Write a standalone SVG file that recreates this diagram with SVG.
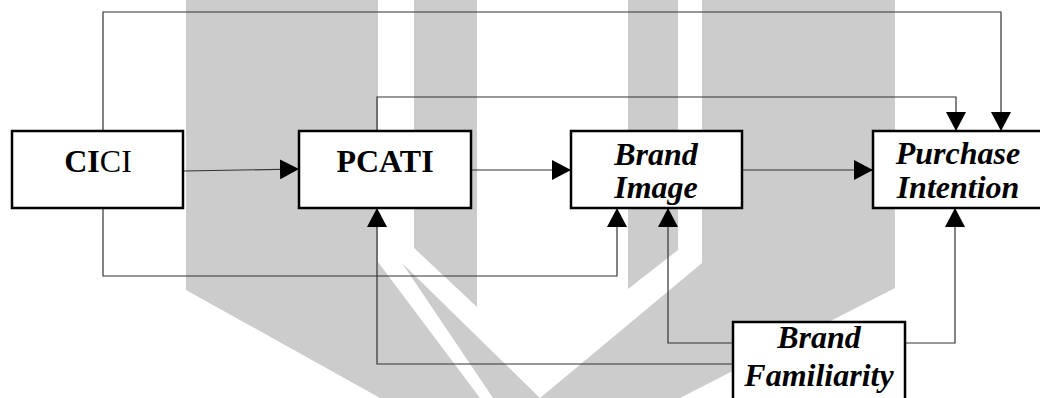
<svg xmlns="http://www.w3.org/2000/svg" width="1040" height="398" viewBox="0 0 1040 398">
  <style>
    .mark { fill: #cccccc; stroke: none; }
    .box { fill: #ffffff; stroke: #000000; stroke-width: 2.5; }
    .lbl { font-family: "Liberation Serif", "Times New Roman", Times, serif; font-size: 32px; font-weight: bold; fill: #000000; text-anchor: middle; }
    .it { font-style: italic; }
    .reg { font-weight: normal; }
    .wire { fill: none; stroke: #333333; stroke-width: 1.2; }
    .arrow { marker-end: url(#head); }
  </style>
  <defs>
    <marker id="head" markerUnits="userSpaceOnUse" markerWidth="20" markerHeight="20" refX="19" refY="10" orient="auto">
      <path d="M0,0 L19,10 L0,20 z" fill="#000000"/>
    </marker>
  </defs>

  <rect width="1040" height="398" fill="#ffffff"/>

  <!-- background emblem -->
  <g id="emblem">
    <polygon class="mark" points="186,0 378,0 378,262 480,398 380,398 186,290"/>
    <polygon class="mark" points="402,263 540,398 493,398"/>
    <polygon class="mark" points="414,0 477,0 477,307 414,248"/>
    <polygon class="mark" points="628,0 678,0 678,250 628,289"/>
    <polygon class="mark" points="702,0 895,0 895,288 680,398 540,398 702,263"/>
  </g>

  <!-- connectors -->
  <g id="connectors">
    <polyline class="wire arrow" points="103,131 103,12 1001,12 1001,131"/>
    <polyline class="wire arrow" points="377,131 377,97 956,97 956,131"/>
    <line class="wire arrow" x1="183" y1="171" x2="299" y2="169"/>
    <line class="wire arrow" x1="471" y1="170" x2="571" y2="170"/>
    <line class="wire arrow" x1="742" y1="170" x2="873" y2="170"/>
    <polyline class="wire arrow" points="103,208 103,276 617,276 617,208"/>
    <polyline class="wire arrow" points="733,364 377,364 377,208"/>
    <polyline class="wire arrow" points="733,343 668,343 668,208"/>
    <polyline class="wire arrow" points="905,343 955,343 955,208"/>
  </g>

  <g id="cici">
    <rect class="box" x="12" y="131" width="171" height="77"/>
    <text class="lbl" x="98" y="172">CI<tspan class="reg">CI</tspan></text>
  </g>

  <g id="pcati">
    <rect class="box" x="299" y="131" width="172" height="77"/>
    <text class="lbl" x="385" y="172">PCATI</text>
  </g>

  <g id="brand-image">
    <rect class="box" x="571" y="131" width="171" height="77"/>
    <text class="lbl it" x="656" y="165">Brand</text>
    <text class="lbl it" x="656" y="198">Image</text>
  </g>

  <g id="purchase-intention">
    <rect class="box" x="873" y="131" width="172" height="77"/>
    <text class="lbl it" x="958" y="164">Purchase</text>
    <text class="lbl it" x="958" y="198">Intention</text>
  </g>

  <g id="brand-familiarity">
    <rect class="box" x="733" y="322" width="172" height="90"/>
    <text class="lbl it" x="819" y="348">Brand</text>
    <text class="lbl it" x="819" y="386">Familiarity</text>
  </g>
</svg>
